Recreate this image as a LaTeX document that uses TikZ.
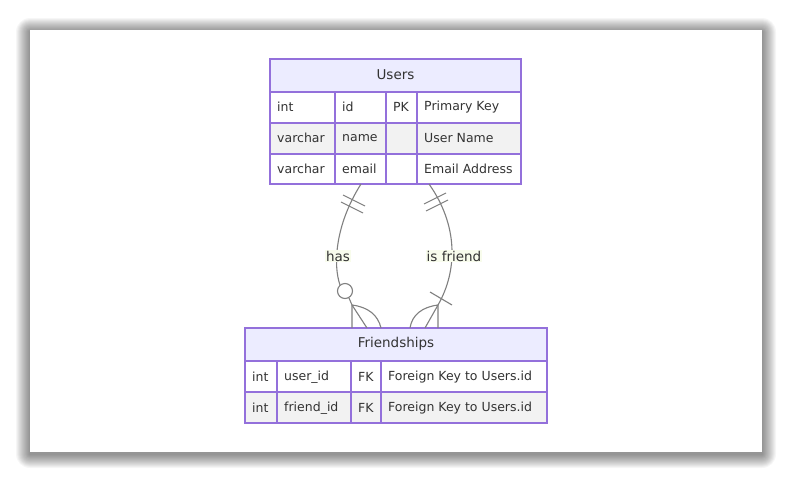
\documentclass[tikz,border=0pt]{standalone}
\usepackage{fontspec}
\setmainfont{DejaVu Sans}
\definecolor{bd}{HTML}{9370DB}
\definecolor{hd}{HTML}{ECECFF}
\definecolor{rg}{HTML}{F2F2F2}
\definecolor{lb}{HTML}{F8FCEC}
\definecolor{ln}{HTML}{808080}
\begin{document}
\begin{tikzpicture}[x=1pt,y=-1pt,
  cell/.style={anchor=west,font=\fontsize{12.5}{14}\selectfont,text=black!80,inner sep=0},
  hdr/.style={font=\fontsize{13.5}{15}\selectfont,text=black!80},
  rel/.style={draw=ln,line width=1.1pt},
  tb/.style={bd,line width=1.4pt},
  lab/.style={fill=lb,font=\fontsize{13.5}{15}\selectfont,text=black!80,inner sep=1pt}]
\useasboundingbox (0,0) rectangle (792,482);
\fill[white] (0,0) rectangle (792,482);
\foreach \i in {14,13,...,1} {
  \fill[black,opacity=0.035,rounded corners=\i pt] (30-\i,30-\i+2) rectangle (762+\i,452+\i+2);
}
\fill[white] (30,30) rectangle (762,452);
% Users table
\fill[hd] (270,59) rectangle (521,92);
\fill[rg] (270,123) rectangle (521,154);
\draw[tb] (270,59) rectangle (521,184);
\foreach \y in {92,123,154} \draw[tb] (270,\y) -- (521,\y);
\foreach \x in {335,386,417} \draw[tb] (\x,92) -- (\x,184);
\node[hdr] (users) at (395.5,75) {Users};
\node[cell] (u11) at (277,107) {int};
\node[cell] (u12) at (342,107) {id};
\node[cell] (u13) at (393,107) {PK};
\node[cell] (u14) at (424,107) {Primary Key};
\node[cell] (u21) at (277,138) {varchar};
\node[cell] (u22) at (342,138) {name};
\node[cell] (u24) at (424,138) {User Name};
\node[cell] (u31) at (277,169) {varchar};
\node[cell] (u32) at (342,169) {email};
\node[cell] (u34) at (424,169) {Email Address};
% Friendships table
\fill[hd] (245,328) rectangle (547,361);
\fill[rg] (245,392) rectangle (547,423);
\draw[tb] (245,328) rectangle (547,423);
\foreach \y in {361,392} \draw[tb] (245,\y) -- (547,\y);
\foreach \x in {277,351,381} \draw[tb] (\x,361) -- (\x,423);
\node[hdr] (fr) at (396,344) {Friendships};
\node[cell] (f11) at (252,377) {int};
\node[cell] (f12) at (284,377) {user\_id};
\node[cell] (f13) at (358,377) {FK};
\node[cell] (f14) at (388,377) {Foreign Key to Users.id};
\node[cell] (f21) at (252,408) {int};
\node[cell] (f22) at (284,408) {friend\_id};
\node[cell] (f23) at (358,408) {FK};
\node[cell] (f24) at (388,408) {Foreign Key to Users.id};
% connectors
\coordinate (ua) at (361,184);
\coordinate (ub) at (429,184);
\coordinate (fa) at (352,328);
\coordinate (fb) at (438,328);
\draw[rel] (ua) .. controls (335,225) and (333,265) .. (340,285);
\draw[rel] (ub) .. controls (458,225) and (458,270) .. (438,305) -- (fb);
\draw[rel] (345,291) circle (7.5);
\draw[rel] (349,298) -- (352,305) -- (fa);
\draw[rel] (352,305) -- (367,328);
\draw[rel] (352,305) .. controls (368,307) and (378,315) .. (381,328);
\draw[rel] (438,305) -- (425,328);
\draw[rel] (438,305) .. controls (422,307) and (412,315) .. (410,328);
\draw[rel] (343,195) -- (365,206);
\draw[rel] (341,202) -- (363,213);
\draw[rel] (424,204) -- (446,193);
\draw[rel] (426,211) -- (448,200);
\draw[rel] (430,292) -- (452,305);
\node[lab] (has) at (338,256) {has};
\node[lab] (isf) at (454,256) {is friend};
\end{tikzpicture}
\end{document}
